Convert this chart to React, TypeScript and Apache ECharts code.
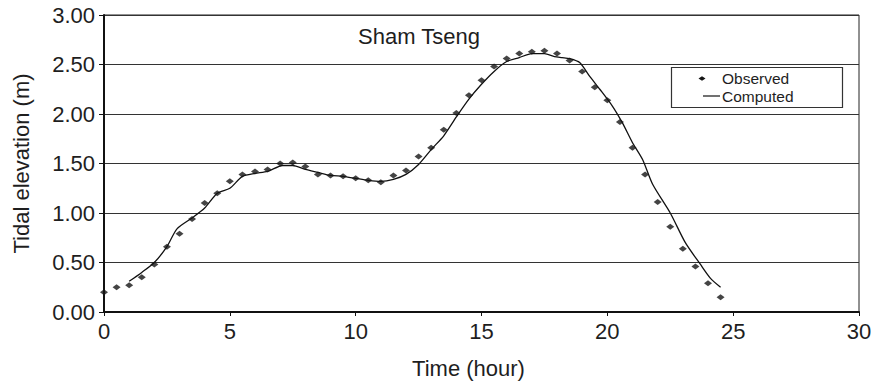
import React, { useEffect, useRef } from "react";
import * as echarts from "echarts";

const obsTime = [0, 0.5, 1, 1.5, 2, 2.5, 3, 3.5, 4, 4.5, 5, 5.5, 6, 6.5, 7, 7.5, 8, 8.5, 9, 9.5, 10, 10.5, 11, 11.5, 12, 12.5, 13, 13.5, 14, 14.5, 15, 15.5, 16, 16.5, 17, 17.5, 18, 18.5, 19, 19.5, 20, 20.5, 21, 21.5, 22, 22.5, 23, 23.5, 24, 24.5];
const obsValue = [0.20, 0.25, 0.27, 0.35, 0.48, 0.66, 0.79, 0.94, 1.10, 1.20, 1.32, 1.39, 1.42, 1.44, 1.50, 1.51, 1.47, 1.39, 1.38, 1.37, 1.35, 1.33, 1.31, 1.38, 1.43, 1.57, 1.66, 1.84, 2.01, 2.19, 2.34, 2.48, 2.56, 2.61, 2.63, 2.64, 2.61, 2.54, 2.43, 2.27, 2.14, 1.92, 1.66, 1.39, 1.11, 0.86, 0.64, 0.46, 0.29, 0.15];

const compTime = [1.0, 1.5, 2.0, 2.5, 2.9, 3.5, 4.0, 4.5, 5.0, 5.5, 6.0, 6.5, 7.1, 7.5, 8.0, 8.5, 9.0, 9.5, 10.0, 10.5, 11.0, 11.5, 12.0, 12.5, 13.0, 13.5, 14.0, 14.5, 15.0, 15.5, 16.0, 16.5, 17.0, 17.5, 17.9, 18.2, 18.5, 18.9, 19.3, 19.7, 20.2, 20.6, 21.0, 21.4, 21.8, 22.5, 23.1, 23.7, 24.1, 24.5];
const compValue = [0.31, 0.40, 0.50, 0.66, 0.84, 0.95, 1.05, 1.20, 1.25, 1.37, 1.40, 1.42, 1.48, 1.48, 1.44, 1.41, 1.38, 1.37, 1.35, 1.33, 1.32, 1.34, 1.39, 1.49, 1.64, 1.78, 1.97, 2.15, 2.30, 2.43, 2.53, 2.57, 2.61, 2.61, 2.58, 2.57, 2.56, 2.52, 2.38, 2.25, 2.08, 1.91, 1.71, 1.54, 1.29, 1.00, 0.70, 0.48, 0.34, 0.25];

const seriesNames = ["Observed", "Computed"];
const chartTitle = "Sham Tseng";
const xTitle = "Time (hour)";
const yTitle = "Tidal elevation (m)";

const FONT = "Liberation Sans, Arial, sans-serif";
const INK = "#1e1e1e";

export default function App() {
  const ref = useRef<HTMLDivElement>(null);
  useEffect(() => {
    document.body.style.margin = "0";
    if (!ref.current) return;
    const chart = echarts.init(ref.current, null, { renderer: "svg" });
    const obsData = obsTime.map((t, i) => [t, obsValue[i]]);
    const compData = compTime.map((t, i) => [t, compValue[i]]);
    chart.setOption({
      animation: false,
      backgroundColor: "#ffffff",
      textStyle: { fontFamily: FONT, color: INK },
      title: {
        text: chartTitle,
        left: 358,
        top: 25,
        padding: 0,
        textStyle: { fontFamily: FONT, fontSize: 22, fontWeight: "normal", color: INK },
      },
      grid: {
        left: 104,
        top: 15,
        width: 755,
        height: 297,
        show: true,
        borderColor: "#222",
        borderWidth: 1,
        backgroundColor: "transparent",
      },
      xAxis: {
        type: "value",
        min: 0,
        max: 30,
        interval: 5,
        name: xTitle,
        nameLocation: "middle",
        nameGap: 45,
        nameTextStyle: { fontFamily: FONT, fontSize: 22, color: INK, padding: [0, 26, 0, 0] },
        axisLine: { show: true, onZero: false, lineStyle: { color: "#111", width: 2 } },
        axisTick: { show: true, length: 4, lineStyle: { color: "#111", width: 1 } },
        axisLabel: { fontFamily: FONT, fontSize: 22, color: INK, margin: 8 },
        splitLine: { show: false },
      },
      yAxis: {
        type: "value",
        min: 0,
        max: 3,
        interval: 0.5,
        name: yTitle,
        nameLocation: "middle",
        nameGap: 72,
        nameTextStyle: { fontFamily: FONT, fontSize: 22, color: INK },
        axisLine: { show: true, lineStyle: { color: "#111", width: 2 } },
        axisTick: { show: true, length: 5, lineStyle: { color: "#111", width: 1 } },
        axisLabel: {
          fontFamily: FONT,
          fontSize: 22,
          color: INK,
          margin: 9,
          formatter: (v: number) => v.toFixed(2),
        },
        splitLine: { show: true, lineStyle: { color: "#333", width: 1 } },
      },
      series: [
        {
          name: seriesNames[0],
          type: "scatter",
          data: obsData,
          symbol: "diamond",
          symbolSize: [8, 6],
          itemStyle: { color: "#151515" },
          z: 3,
        },
        {
          name: seriesNames[1],
          type: "line",
          data: compData,
          showSymbol: false,
          smooth: 0.25,
          lineStyle: { color: "#111", width: 1.3 },
          z: 2,
        },
      ],
      graphic: [
        {
          type: "rect",
          shape: { x: 671.5, y: 67.5, width: 171, height: 40 },
          style: { fill: "#fff", stroke: "#333", lineWidth: 1.2 },
          z: 10,
        },
        {
          type: "polygon",
          shape: { points: [[698.5, 78.5], [702, 76.3], [705.5, 78.5], [702, 80.7]] },
          style: { fill: "#151515" },
          z: 11,
        },
        {
          type: "line",
          shape: { x1: 703, y1: 96, x2: 720, y2: 96 },
          style: { stroke: "#111", lineWidth: 1.2 },
          z: 11,
        },
        {
          type: "text",
          x: 722,
          y: 78,
          style: { text: seriesNames[0], fontFamily: FONT, fontSize: 15.5, lineHeight: 16, fill: INK, verticalAlign: "middle", align: "left" },
          z: 11,
        },
        {
          type: "text",
          x: 722,
          y: 96,
          style: { text: seriesNames[1], fontFamily: FONT, fontSize: 15.5, lineHeight: 16, fill: INK, verticalAlign: "middle", align: "left" },
          z: 11,
        },
      ],
    });
    return () => chart.dispose();
  }, []);
  return <div ref={ref} style={{ width: 877, height: 387 }} />;
}
